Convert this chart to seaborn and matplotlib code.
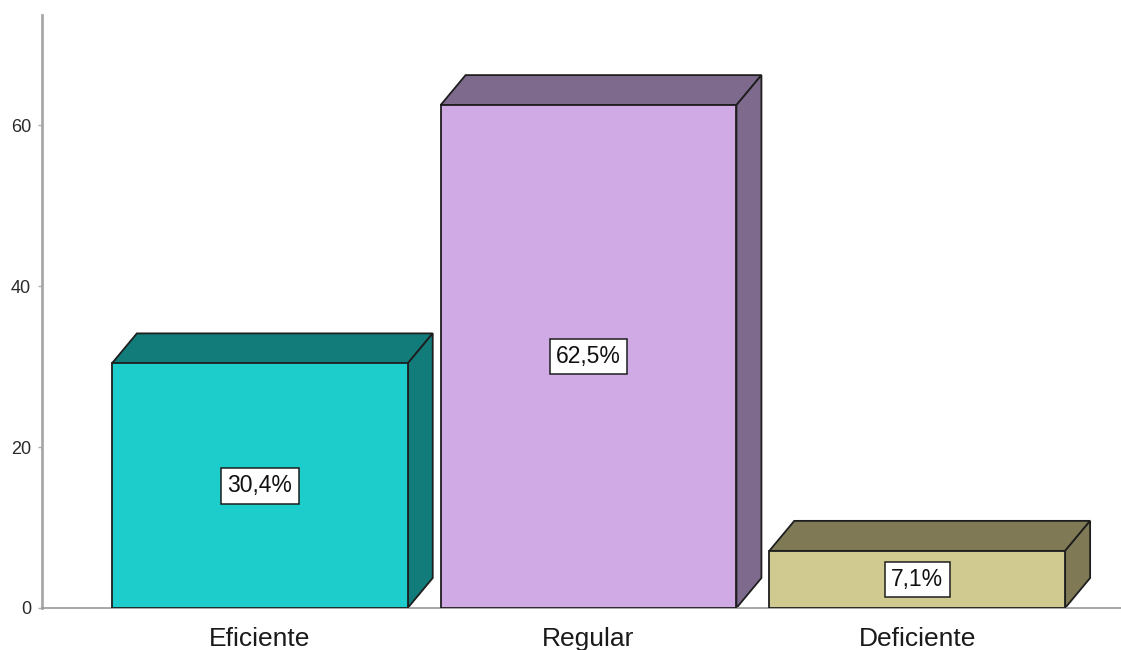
import matplotlib
matplotlib.use("Agg")
import matplotlib.pyplot as plt
from matplotlib.patches import Polygon
import seaborn as sns
import pandas as pd

categories = ["Eficiente", "Regular", "Deficiente"]
percentages = [30.4, 62.5, 7.1]
value_labels = ["30,4%", "62,5%", "7,1%"]
yticks = [0, 20, 40, 60]

front_colors = ["#1ccdcc", "#d0aae4", "#d1ca90"]
shade_colors = ["#127c7a", "#7e6a8c", "#7f7a55"]

sns.set_theme(style="white")
plt.rcParams["font.family"] = ["Liberation Sans", "DejaVu Sans"]

W, H = 1121, 650
fig = plt.figure(figsize=(W / 100, H / 100), dpi=100)
ax = fig.add_axes([42 / W, (H - 608) / H, (W - 42) / W, (608 - 15) / H])

df = pd.DataFrame({"cat": categories, "pct": percentages})
sns.barplot(data=df, x="cat", y="pct", hue="cat", palette=front_colors,
            saturation=1, width=0.9, edgecolor="#1e1e1e", linewidth=1.3,
            legend=False, ax=ax, zorder=3)

ax.set_xlim(-0.6626, 2.62)
ax.set_ylim(0, 73.7)

# depth of the box extrusion, given in pixels and converted to data units
inv = ax.transData.inverted()
o = inv.transform(ax.transData.transform((0, 0)))
d = inv.transform(ax.transData.transform((0, 0)) + [25, 30])
dx, dy = d[0] - o[0], d[1] - o[1]

for bar, shade, lab in zip(ax.patches, shade_colors, value_labels):
    x0 = bar.get_x()
    x1 = x0 + bar.get_width()
    h = bar.get_height()
    top = Polygon([(x0, h), (x1, h), (x1 + dx, h + dy), (x0 + dx, h + dy)],
                  closed=True, facecolor=shade, edgecolor="#1e1e1e",
                  linewidth=1.3, zorder=2)
    side = Polygon([(x1, 0), (x1 + dx, dy), (x1 + dx, h + dy), (x1, h)],
                   closed=True, facecolor=shade, edgecolor="#1e1e1e",
                   linewidth=1.3, zorder=2)
    ax.add_patch(top)
    ax.add_patch(side)
    ax.text((x0 + x1) / 2, h / 2, lab, ha="center", va="center",
            fontsize=16.5, color="#111111", zorder=5,
            bbox=dict(boxstyle="square,pad=0.28", facecolor="white",
                      edgecolor="#1e1e1e", linewidth=1.1))

ax.set_yticks(yticks)
ax.set_xlabel("")
ax.set_ylabel("")
for s in ["top", "right"]:
    ax.spines[s].set_visible(False)
ax.spines["left"].set_color("#a8a8a8")
ax.spines["left"].set_linewidth(2)
ax.spines["bottom"].set_color("#9a9a9a")
ax.spines["bottom"].set_linewidth(1.2)
ax.tick_params(axis="y", left=True, length=3, width=1, color="#b0b0b0",
               pad=5, labelsize=13, labelcolor="#2a2a2a")
ax.tick_params(axis="x", bottom=False, pad=8, labelsize=19,
               labelcolor="#1a1a1a")

fig.savefig("out.png", dpi=100, facecolor="white")
